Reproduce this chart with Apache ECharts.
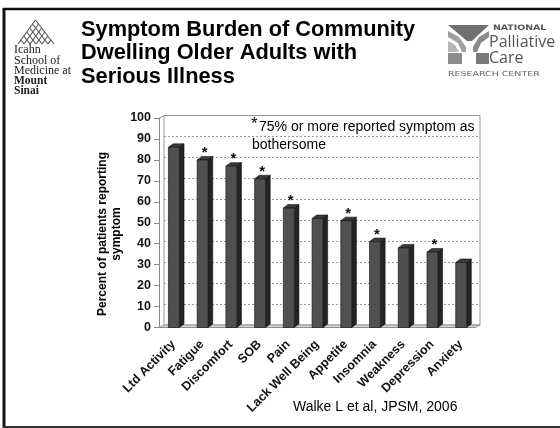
<!DOCTYPE html>
<html>
<head>
<meta charset="utf-8">
<script src="https://cdn.jsdelivr.net/npm/echarts@6/dist/echarts.min.js"></script>
<style>
  html, body { margin: 0; padding: 0; background: #ffffff; }
  #chart { width: 560px; height: 428px; }
</style>
</head>
<body>
<div id="chart"></div>
<script>
// Symptoms, in the order they appear along the x axis
const categories = ['Ltd Activity', 'Fatigue', 'Discomfort', 'SOB', 'Pain', 'Lack Well Being',
  'Appetite', 'Insomnia', 'Weakness', 'Depression', 'Anxiety'];
// Percent of patients reporting each symptom
const percentReporting = [86, 80, 77, 71, 57, 52, 51, 41, 38, 36, 31];
// Symptoms that 75% or more of patients reported as bothersome
const bothersome = [false, true, true, true, true, false, true, true, false, true, false];
// Value axis range
const yMin = 0, yMax = 100, yStep = 10;

const FONT = '"Liberation Sans", Arial, sans-serif';

// Front plane of the 3D plot and the offset of its back wall
const front = { left: 159, top: 118, right: 475, bottom: 327.5 };
const depth = { dx: 5, dy: -2.5 };

const chart = echarts.init(document.getElementById('chart'), null, { renderer: 'canvas' });

function renderBar(params, api) {
  const idx = params.dataIndex;
  const top = api.coord([api.value(0), api.value(1)]);
  const base = api.coord([api.value(0), 0]);
  const band = api.size([1, 0])[0];
  const w = band * 0.38;
  const x0 = top[0] - w / 2 + 0.5, x1 = x0 + w;
  const yT = top[1], yB = base[1];
  const dx = 4.7, dy = -3.5;
  const children = [
    { type: 'polygon', shape: { points: [[x1, yT], [x1 + dx, yT + dy], [x1 + dx, yB + dy], [x1, yB]] },
      style: { fill: '#242424', stroke: '#111', lineWidth: 0.6 } },
    { type: 'polygon', shape: { points: [[x0, yT], [x0 + dx, yT + dy], [x1 + dx, yT + dy], [x1, yT]] },
      style: { fill: '#3a3a3a', stroke: '#111', lineWidth: 0.6 } },
    { type: 'rect', shape: { x: x0, y: yT, width: w, height: yB - yT },
      style: { fill: '#505050', stroke: '#111', lineWidth: 0.6 } }
  ];
  if (bothersome[idx]) {
    children.push({ type: 'text', x: top[0] + 2.5, y: yT - 7,
      style: { text: '*', font: 'bold 15px ' + FONT, fill: '#111', align: 'center', verticalAlign: 'middle' } });
  }
  return { type: 'group', children };
}

// Diagonal hatch strokes forming the mountain mark
function mountainStrokes() {
  const lines = [];
  const peak = [35.5, 20], bl = [18, 44], br = [54, 44];
  for (let i = 1; i <= 6; i++) {
    const t = i / 6;
    const sx = bl[0] + (peak[0] - bl[0]) * t, sy = bl[1] + (peak[1] - bl[1]) * t;
    lines.push({ type: 'line', shape: { x1: sx, y1: sy, x2: sx + (br[0] - peak[0]) * t, y2: sy + (br[1] - peak[1]) * t },
      style: { stroke: '#555', lineWidth: 1.1 } });
    const rx = br[0] + (peak[0] - br[0]) * t, ry = br[1] + (peak[1] - br[1]) * t;
    lines.push({ type: 'line', shape: { x1: rx, y1: ry, x2: rx + (bl[0] - peak[0]) * t, y2: ry + (bl[1] - peak[1]) * t },
      style: { stroke: '#555', lineWidth: 1.1 } });
  }
  return lines;
}

const graphics = [
  // slide frame
  { type: 'line', shape: { x1: 4, y1: 8, x2: 4, y2: 428 }, style: { stroke: '#111', lineWidth: 3 } },
  { type: 'line', shape: { x1: 3, y1: 9, x2: 560, y2: 9 }, style: { stroke: '#111', lineWidth: 2.5 } },
  { type: 'line', shape: { x1: 3, y1: 427, x2: 560, y2: 427 }, style: { stroke: '#333', lineWidth: 2 } },

  // floor of the 3D plot
  { type: 'polygon', z: 1, shape: { points: [[front.left, front.bottom], [front.right, front.bottom],
      [front.right + depth.dx, front.bottom + depth.dy], [front.left + depth.dx, front.bottom + depth.dy]] },
    style: { fill: '#d4d4d4', stroke: '#888', lineWidth: 0.8 } },
  // left wall top edge
  { type: 'line', z: 1, shape: { x1: front.left + 1, y1: front.top, x2: front.left + depth.dx, y2: front.top + depth.dy },
    style: { stroke: '#888', lineWidth: 1 } },

  // title
  { type: 'text', left: 81, top: 18,
    style: { text: 'Symptom Burden of Community\nDwelling Older Adults with\nSerious Illness',
      font: 'bold 21.8px ' + FONT, lineHeight: 23.5, fill: '#000' } },

  // note about the asterisks
  { type: 'text', x: 251, y: 116, style: { text: '*', font: '17px ' + FONT, fill: '#000' } },
  { type: 'text', x: 259, y: 120, style: { text: '75% or more reported symptom as', font: '14px ' + FONT, fill: '#000' } },
  { type: 'text', x: 252, y: 138, style: { text: 'bothersome', font: '14px ' + FONT, fill: '#000' } },

  // value axis title
  { type: 'text', x: 110, y: 234, rotation: Math.PI / 2,
    style: { text: 'Percent of patients reporting\nsymptom', font: 'bold 12px ' + FONT, lineHeight: 14,
      fill: '#000', align: 'center', verticalAlign: 'middle' } },

  // source
  { type: 'text', x: 293, y: 400, style: { text: 'Walke L et al, JPSM, 2006', font: '14px ' + FONT, fill: '#000' } },

  // Icahn School of Medicine at Mount Sinai mark
  { type: 'group', children: mountainStrokes() },
  { type: 'text', x: 14, y: 44.5, style: { text: 'Icahn\nSchool of\nMedicine at', font: '12px "Liberation Serif", serif', lineHeight: 10.7, fill: '#222' } },
  { type: 'text', x: 14, y: 76.5, style: { text: 'Mount\nSinai', font: 'bold 11.5px "Liberation Serif", serif', lineHeight: 9.5, fill: '#222' } },

  // National Palliative Care Research Center mark
  { type: 'polygon', shape: { points: [[448, 25], [489, 25], [472, 41], [467, 41]] }, style: { fill: '#707070' } },
  { type: 'polygon', shape: { points: [[448, 31], [459, 37], [466, 47], [466, 52], [462, 52], [458, 43], [448, 37]] }, style: { fill: '#a0a0a0' } },
  { type: 'polygon', shape: { points: [[489, 31], [479, 37], [473, 47], [473, 52], [477, 52], [481, 43], [489, 37]] }, style: { fill: '#8a8a8a' } },
  { type: 'polygon', shape: { points: [[448, 41], [455, 45], [459, 52], [448, 52]] }, style: { fill: '#b5b5b5' } },
  { type: 'rect', shape: { x: 448, y: 53, width: 14, height: 11 }, style: { fill: '#8c8c8c' } },
  { type: 'rect', shape: { x: 476, y: 53, width: 13, height: 11 }, style: { fill: '#7a7a7a' } },
  { type: 'text', x: 493, y: 24, scaleX: 1.25, style: { text: 'NATIONAL', font: 'bold 7.5px "DejaVu Sans", sans-serif', fill: '#555' } },
  { type: 'text', x: 489, y: 34, style: { text: 'Palliative', font: '16px "Open Sans", sans-serif', fill: '#555' } },
  { type: 'text', x: 489, y: 50, style: { text: 'Care', font: '16px "Open Sans", sans-serif', fill: '#555' } },
  { type: 'text', x: 448, y: 71, scaleX: 1.35, style: { text: 'RESEARCH CENTER', font: '7px "DejaVu Sans", sans-serif', fill: '#666' } }
];

const option = {
  animation: false,
  backgroundColor: '#ffffff',
  grid: [
    // front plane: axes and bars
    { left: front.left, top: front.top, width: front.right - front.left, height: front.bottom - front.top },
    // back wall: gridlines
    { left: front.left + depth.dx, top: front.top + depth.dy, width: front.right - front.left,
      height: front.bottom - front.top, show: true, borderColor: '#999', borderWidth: 1, backgroundColor: 'transparent' }
  ],
  xAxis: [
    { type: 'category', gridIndex: 0, data: categories,
      axisLine: { lineStyle: { color: '#888', width: 1 } },
      axisTick: { length: 5, lineStyle: { color: '#888' } },
      axisLabel: { rotate: 45, margin: 15, interval: 0, color: '#111', fontFamily: FONT, fontWeight: 'bold', fontSize: 12.5 } },
    { type: 'category', gridIndex: 1, data: categories, show: false }
  ],
  yAxis: [
    { type: 'value', gridIndex: 0, min: yMin, max: yMax, interval: yStep,
      axisLine: { show: true, lineStyle: { color: '#888', width: 1 } },
      axisTick: { show: true, length: 5, lineStyle: { color: '#888' } },
      splitLine: { show: false },
      axisLabel: { margin: 8, color: '#111', fontFamily: FONT, fontWeight: 'bold', fontSize: 12.5 } },
    { type: 'value', gridIndex: 1, min: yMin, max: yMax, interval: yStep,
      axisLine: { show: false }, axisTick: { show: false }, axisLabel: { show: false },
      splitLine: { show: true, lineStyle: { color: '#999', type: [2, 2], width: 1 } } }
  ],
  series: [{
    type: 'custom', xAxisIndex: 0, yAxisIndex: 0, z: 3,
    renderItem: renderBar,
    encode: { x: 0, y: 1 },
    data: categories.map((c, i) => [i, percentReporting[i]])
  }],
  graphic: graphics
};

chart.setOption(option);
</script>
</body>
</html>
